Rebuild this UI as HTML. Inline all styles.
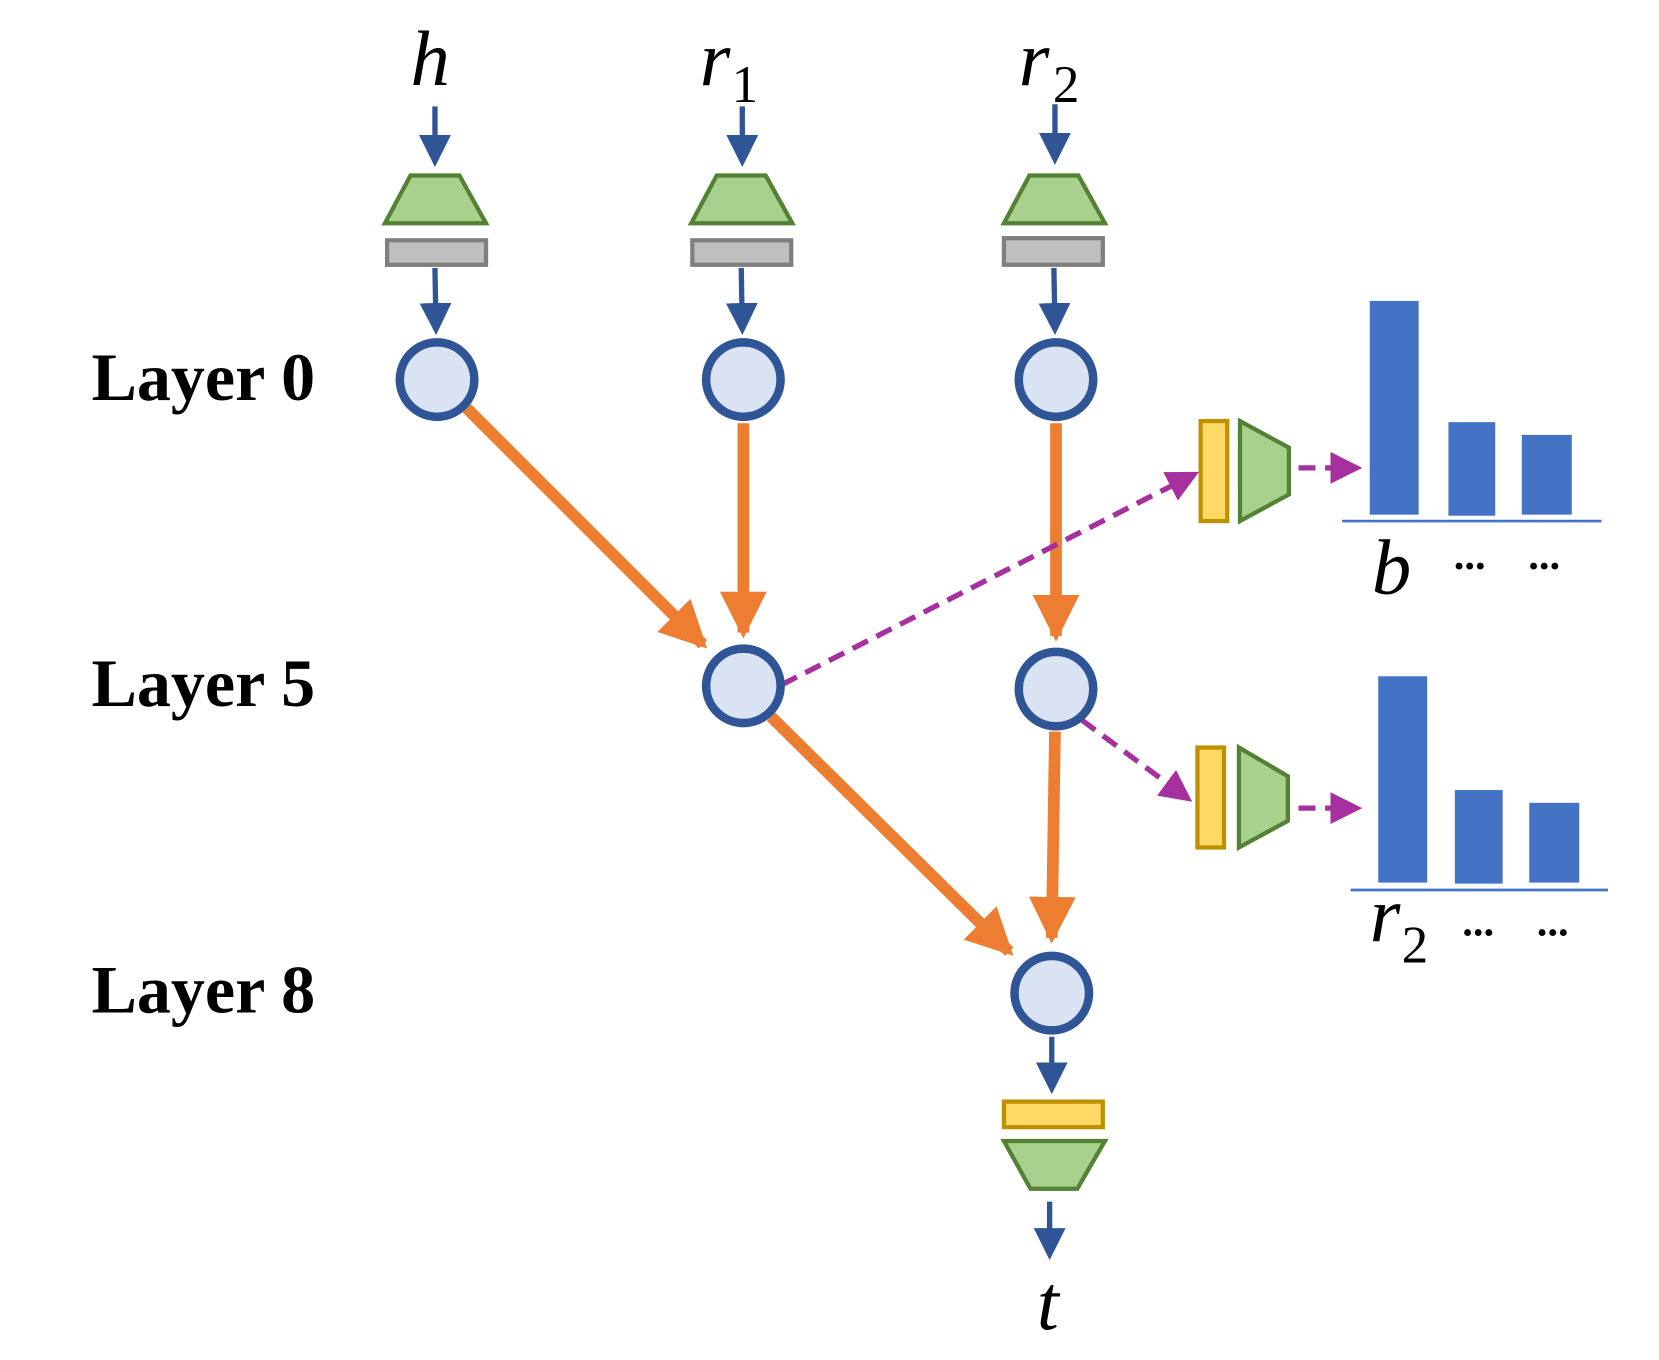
<!DOCTYPE html>
<html><head><meta charset="utf-8"><style>
html,body{margin:0;padding:0;background:#fff;}
svg{display:block;}
.lab{font-family:"Liberation Serif",serif;font-size:64px;font-weight:bold;fill:#000;}
.it{font-family:"Liberation Serif",serif;font-style:italic;font-size:74px;fill:#000;}
.sub{font-family:"Liberation Serif",serif;font-size:50px;fill:#000;}
.dots{font-family:"Liberation Serif",serif;font-size:40px;font-weight:bold;fill:#000;}
</style></head><body>
<svg width="1659" height="1360" viewBox="0 0 1560 1279" preserveAspectRatio="none" xmlns="http://www.w3.org/2000/svg">
<defs>
<marker id="ab" markerWidth="6" markerHeight="6" refX="5" refY="3" orient="auto" markerUnits="strokeWidth"><path d="M0,0 L6,3 L0,6 z" fill="#2f5597"/></marker>
<marker id="ao" markerWidth="4" markerHeight="4" refX="3.5" refY="2" orient="auto" markerUnits="strokeWidth"><path d="M0,0 L4,2 L0,4 z" fill="#ed7d31"/></marker>
<marker id="ap" markerWidth="6" markerHeight="6" refX="5" refY="3" orient="auto" markerUnits="strokeWidth"><path d="M0,0 L6,3 L0,6 z" fill="#a5309e"/></marker>
</defs>
<text class="it" x="386" y="80">h</text>
<text class="it" x="658" y="80">r</text><text class="sub" x="688" y="96">1</text>
<text class="it" x="958" y="80">r</text><text class="sub" x="990" y="96">2</text>
<g stroke="#2f5597" stroke-width="5" fill="none">
<line x1="409" y1="100" x2="409" y2="152" marker-end="url(#ab)"/>
<line x1="698" y1="100" x2="698" y2="152" marker-end="url(#ab)"/>
<line x1="992" y1="98" x2="992" y2="150" marker-end="url(#ab)"/>
<line x1="409" y1="252" x2="410" y2="310" marker-end="url(#ab)"/>
<line x1="697" y1="252" x2="698" y2="310" marker-end="url(#ab)"/>
<line x1="991" y1="252" x2="992" y2="310" marker-end="url(#ab)"/>
<line x1="989" y1="975" x2="989" y2="1024" marker-end="url(#ab)"/>
<line x1="987" y1="1130" x2="987" y2="1180" marker-end="url(#ab)"/>
</g>
<g fill="#a9d18e" stroke="#548235" stroke-width="4">
<polygon points="386,165 432,165 457,210 362,210"/>
<polygon points="674,165 720,165 745,210 650,210"/>
<polygon points="968,165 1014,165 1039,210 944,210"/>
<polygon points="944,1073 1039,1073 1013,1118 969,1118"/>
<polygon points="1166,396 1212,421 1212,465 1166,490"/>
<polygon points="1165,703 1211,730 1211,772 1165,797"/>
</g>
<g fill="#bfbfbf" stroke="#7f7f7f" stroke-width="4">
<rect x="364" y="226" width="93" height="23"/>
<rect x="651" y="226" width="93" height="23"/>
<rect x="944" y="224" width="93" height="25"/>
</g>
<g fill="#ffd966" stroke="#bf9000" stroke-width="4">
<rect x="944" y="1036" width="93" height="24"/>
<rect x="1129" y="396" width="25" height="94"/>
<rect x="1126" y="703" width="25" height="94"/>
</g>
<g stroke="#ed7d31" stroke-width="11" fill="none">
<line x1="439" y1="384" x2="661" y2="606" marker-end="url(#ao)"/>
<line x1="699" y1="398" x2="699" y2="595" marker-end="url(#ao)"/>
<line x1="993" y1="398" x2="993" y2="598" marker-end="url(#ao)"/>
<line x1="725" y1="674" x2="949" y2="895" marker-end="url(#ao)"/>
<line x1="992" y1="688" x2="989" y2="882" marker-end="url(#ao)"/>
</g>
<g stroke="#a5309e" stroke-width="5" fill="none" stroke-dasharray="16,9">
<line x1="735" y1="644" x2="1123" y2="446" marker-end="url(#ap)"/>
<line x1="1017" y1="677" x2="1117" y2="751" marker-end="url(#ap)"/>
<line x1="1221" y1="440" x2="1276" y2="440" marker-end="url(#ap)"/>
<line x1="1221" y1="760" x2="1276" y2="760" marker-end="url(#ap)"/>
</g>
<g fill="#dae3f3" stroke="#2f5597" stroke-width="8">
<circle cx="411" cy="357" r="35"/>
<circle cx="699" cy="357" r="35"/>
<circle cx="993" cy="357" r="35"/>
<circle cx="699" cy="645" r="35"/>
<circle cx="993" cy="648" r="35"/>
<circle cx="989" cy="934" r="35"/>
</g>
<text class="lab" x="86" y="376">Layer 0</text>
<text class="lab" x="86" y="664">Layer 5</text>
<text class="lab" x="86" y="952">Layer 8</text>
<g fill="#4472c4">
<rect x="1288" y="283" width="46" height="201"/>
<rect x="1362" y="397" width="44" height="88"/>
<rect x="1431" y="409" width="47" height="75"/>
<rect x="1296" y="636" width="46" height="194"/>
<rect x="1368" y="743" width="45" height="88"/>
<rect x="1438" y="755" width="47" height="75"/>
</g>
<line x1="1262" y1="490" x2="1506" y2="490" stroke="#4472c4" stroke-width="2.5"/>
<line x1="1270" y1="837" x2="1512" y2="837" stroke="#4472c4" stroke-width="2.5"/>
<text class="it" x="1290" y="558">b</text>
<text class="dots" x="1367" y="535">...</text><text class="dots" x="1437" y="535">...</text>
<text class="it" x="1288" y="885">r</text><text class="sub" x="1318" y="905">2</text>
<text class="dots" x="1375" y="880">...</text><text class="dots" x="1445" y="880">...</text>
<text class="it" x="975" y="1250">t</text>
</svg>
</body></html>
